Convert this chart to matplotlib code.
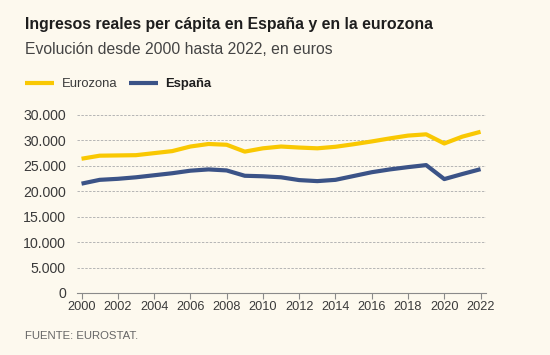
import matplotlib
matplotlib.use("Agg")
import matplotlib.pyplot as plt
from matplotlib.ticker import FixedLocator, FixedFormatter

# Data (euros)
years = list(range(2000, 2023))
eurozona = [26400, 27000, 27050, 27100, 27500, 27900, 28800, 29300, 29150, 27800,
            28450, 28800, 28600, 28450, 28750, 29250, 29800, 30400, 30950, 31200,
            29400, 30750, 31700]
espana = [21500, 22250, 22450, 22750, 23150, 23550, 24050, 24300, 24100, 23050,
          22950, 22750, 22200, 22000, 22250, 23000, 23750, 24300, 24750, 25150,
          22400, 23400, 24350]

# Tick labels as printed on the original (top one repeats 30.000)
y_ticks = [0, 5000, 10000, 15000, 20000, 25000, 30000, 35000]
y_labels = ["0", "5.000", "10.000", "15.000", "20.000", "25.000", "30.000", "30.000"]
x_ticks = list(range(2000, 2023, 2))

BG = "#fdf9ee"
YELLOW = "#f9c802"
BLUE = "#3b5387"
TXT = "#3a3a3a"

plt.rcParams["font.family"] = ["Liberation Sans", "DejaVu Sans"]

fig = plt.figure(figsize=(5.5, 3.55), dpi=100, facecolor=BG)
ax = fig.add_axes([77 / 550, 1 - 293 / 355, (486 - 77) / 550, 178 / 355])
ax.set_facecolor(BG)

ax.plot(years, eurozona, color=YELLOW, lw=3.0, label="Eurozona",
        solid_capstyle="butt", clip_on=False, zorder=3)
ax.plot(years, espana, color=BLUE, lw=3.0, label="España",
        solid_capstyle="butt", clip_on=False, zorder=3)

ax.set_xlim(1999.75, 2022.3)
ax.set_ylim(0, 35000)

ax.yaxis.set_major_locator(FixedLocator(y_ticks))
ax.yaxis.set_major_formatter(FixedFormatter(y_labels))
ax.set_xticks(x_ticks)
ax.set_xticklabels([str(x) for x in x_ticks])

for s in ["top", "right", "left"]:
    ax.spines[s].set_visible(False)
ax.spines["bottom"].set_color("#8a8a8a")
ax.spines["bottom"].set_linewidth(0.8)

ax.tick_params(axis="y", length=0, pad=8, labelsize=10.2, labelcolor=TXT)
ax.tick_params(axis="x", length=4, width=0.8, color="#8a8a8a", pad=2,
               labelsize=9.2, labelcolor=TXT)

ax.yaxis.grid(True, color="#b5b5b5", lw=0.7, ls=(0, (2.5, 1.5)))
ax.set_axisbelow(True)
for g in ax.get_ygridlines()[:1]:
    g.set_visible(False)

# Titles
fig.text(25 / 550, 1 - 25 / 355, "Ingresos reales per cápita en España y en la eurozona",
         fontsize=11.4, fontweight="bold", color="#1e1e1e", va="center", ha="left")
fig.text(25 / 550, 1 - 50 / 355, "Evolución desde 2000 hasta 2022, en euros",
         fontsize=11.3, color="#444444", va="center", ha="left")
fig.text(25 / 550, 1 - 336 / 355, "FUENTE: EUROSTAT.",
         fontsize=8.2, color="#666666", va="center", ha="left")

leg = ax.legend(loc="center left", bbox_to_anchor=(25 / 550, 1 - 84 / 355),
                bbox_transform=fig.transFigure, ncol=2, frameon=False,
                fontsize=9.4, handlelength=2.2, handletextpad=0.6,
                columnspacing=0.9, borderpad=0, borderaxespad=0)
for t in leg.get_texts():
    t.set_color(TXT)
leg.get_texts()[1].set_fontweight("bold")
leg.get_texts()[1].set_color("#1e1e1e")

fig.savefig("out.png", dpi=100, facecolor=BG)
